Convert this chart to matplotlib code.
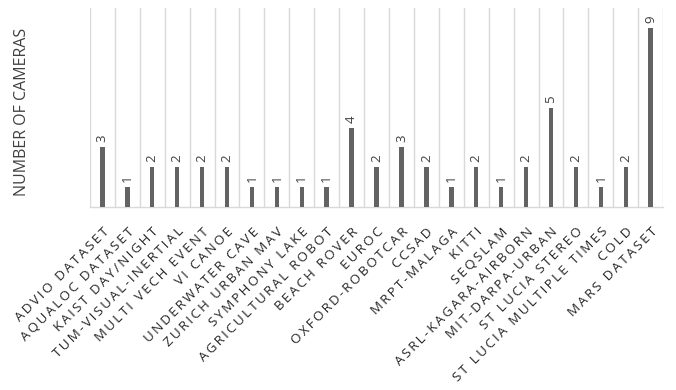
import matplotlib
matplotlib.use("Agg")
import matplotlib.pyplot as plt

plt.rcParams['font.family'] = ['Open Sans', 'DejaVu Sans']

names = ["ADVIO DATASET", "AQUALOC DATASET", "KAIST DAY/NIGHT", "TUM-VISUAL-INERTIAL",
         "MULTI VECH EVENT", "VI CANOE", "UNDERWATER CAVE", "ZURICH URBAN MAV",
         "SYMPHONY LAKE", "AGRICULTURAL ROBOT", "BEACH ROVER", "EUROC",
         "OXFORD-ROBOTCAR", "CCSAD", "MRPT-MALAGA", "KITTI", "SEQSLAM",
         "ASRL-KAGARA-AIRBORN", "MIT-DARPA-URBAN", "ST LUCIA STEREO",
         "ST LUCIA MULTIPLE TIMES", "COLD", "MARS DATASET"]
cameras = [3, 1, 2, 2, 2, 2, 1, 1, 1, 1, 4, 2, 3, 2, 1, 2, 1, 2, 5, 2, 1, 2, 9]


def spaced(s):
    # excel-style letter spacing
    return "\u2009".join(s)


fig = plt.figure(figsize=(6.76, 3.9), dpi=100)
ax = fig.add_axes([0.133, 0.469, 0.848, 0.51])

x = list(range(len(names)))
ax.bar(x, cameras, width=0.18, color='#636363', zorder=3)
for xi, v in zip(x, cameras):
    ax.text(xi, v + 0.25, str(v), rotation=90, ha='center', va='bottom',
            fontsize=9.5, color='#404040')

ax.set_xlim(-0.5, len(names) - 0.5)
ax.set_ylim(0, 10)
ax.set_yticks([])
ax.set_xticks(x)
ax.set_xticklabels([spaced(n) for n in names], rotation=45, ha='right',
                   rotation_mode='anchor', fontsize=9.6, color='#262626')
ax.tick_params(axis='x', length=0, pad=13)

# vertical separators between categories
for b in range(len(names) + 1):
    ax.axvline(b - 0.5, color='#d9d9d9', lw=1, zorder=1)

for s in ['top', 'left', 'right']:
    ax.spines[s].set_visible(False)
ax.spines['bottom'].set_color('#d9d9d9')
ax.spines['bottom'].set_linewidth(1)

fig.text(0.033, 0.713, "NUMBER OF CAMERAS", rotation=90, ha='center', va='center',
         fontsize=11.5, color='#404040')

fig.savefig("out.png", dpi=100)
